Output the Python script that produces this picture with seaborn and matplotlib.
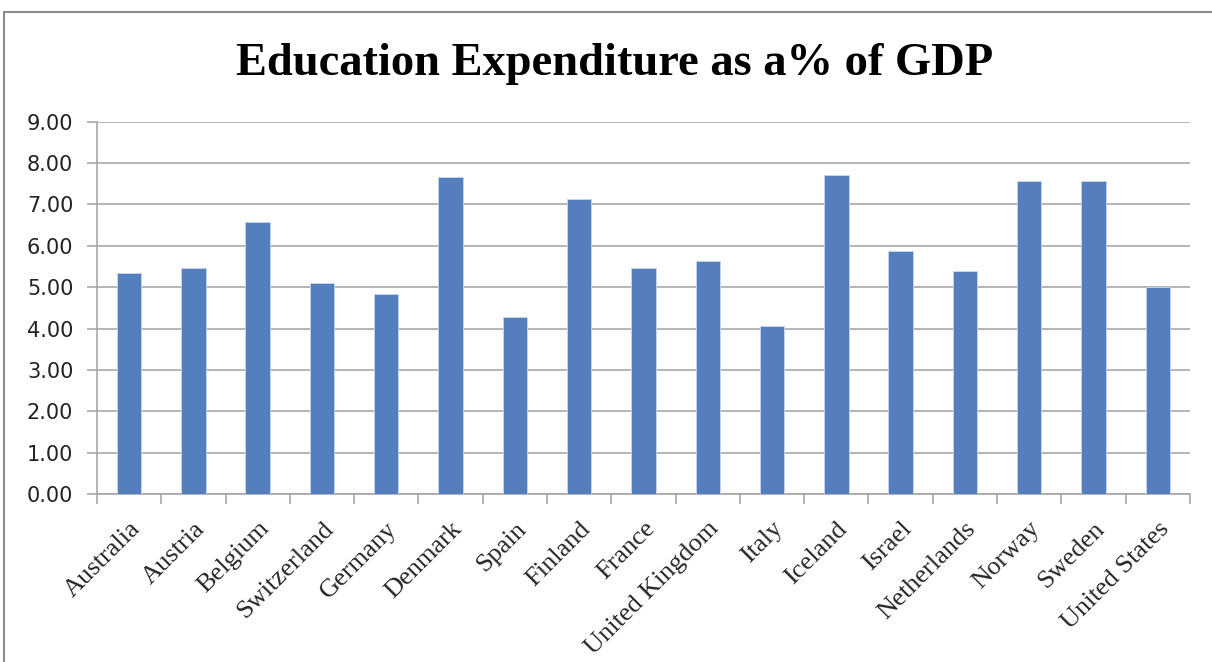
import pandas as pd
import matplotlib.pyplot as plt
import seaborn as sns
from matplotlib.lines import Line2D
from matplotlib.ticker import FixedLocator, FormatStrFormatter

sns.set_theme(style="white")

# Data
countries = ["Australia", "Austria", "Belgium", "Switzerland", "Germany",
             "Denmark", "Spain", "Finland", "France", "United Kingdom",
             "Italy", "Iceland", "Israel", "Netherlands", "Norway",
             "Sweden", "United States"]
spending = [5.33, 5.46, 6.57, 5.09, 4.83, 7.66, 4.28, 7.12, 5.46, 5.64,
            4.07, 7.72, 5.88, 5.40, 7.57, 7.57, 5.00]
y_ticks = [0, 1, 2, 3, 4, 5, 6, 7, 8, 9]

df = pd.DataFrame({"country": countries, "value": spending})

grid_gray = "#a0a0a0"
bar_blue = "#557ebf"

fig = plt.figure(figsize=(12.12, 6.62), dpi=100)
ax = fig.add_axes([0.080, 0.2538, 0.9018, 0.5624])

sns.barplot(data=df, x="country", y="value", order=countries,
            color=bar_blue, saturation=1, width=0.38,
            edgecolor="#c9d6ee", linewidth=0.6, ax=ax, zorder=3)

# y axis
ax.set_ylim(0, 9)
ax.yaxis.set_major_locator(FixedLocator(y_ticks))
ax.yaxis.set_major_formatter(FormatStrFormatter("%.2f"))
ax.grid(axis="y", color=grid_gray, linewidth=1.1, zorder=0)
ax.set_axisbelow(True)

# x axis, ticks sit between categories like Excel
n = len(countries)
ax.set_xlim(-0.5, n - 0.5)
ax.set_xticks(range(n))
ax.set_xticklabels(countries, rotation=45, ha="right", rotation_mode="anchor",
                   fontfamily="Liberation Serif", fontsize=19)
ax.set_xticks([i - 0.5 for i in range(n + 1)], minor=True)
ax.tick_params(axis="x", which="major", length=0, pad=17)
ax.tick_params(axis="x", which="minor", length=7, width=1.1,
               color=grid_gray, direction="out", bottom=True)
ax.tick_params(axis="y", length=7, width=1.1, color=grid_gray,
               direction="out", left=True, pad=10, labelsize=15,
               labelcolor="#222222")

ax.set_xlabel("")
ax.set_ylabel("")

for side in ["top", "right"]:
    ax.spines[side].set_visible(False)
for side in ["left", "bottom"]:
    ax.spines[side].set_visible(True)
    ax.spines[side].set_color(grid_gray)
    ax.spines[side].set_linewidth(1.1)

# Title
fig.text(0.507, 0.903, "Education Expenditure as a% of GDP",
         ha="center", va="center", fontfamily="Liberation Serif",
         fontweight="bold", fontsize=33.5, color="black")

# Chart frame (left and top edges visible)
fig.add_artist(Line2D([4 / 1212, 4 / 1212], [0, 1 - 12 / 662],
                      transform=fig.transFigure, color="#8c8c8c", linewidth=1.5))
fig.add_artist(Line2D([4 / 1212, 1], [1 - 12 / 662, 1 - 12 / 662],
                      transform=fig.transFigure, color="#8c8c8c", linewidth=1.5))

fig.savefig("out.png", dpi=100, facecolor="white")
